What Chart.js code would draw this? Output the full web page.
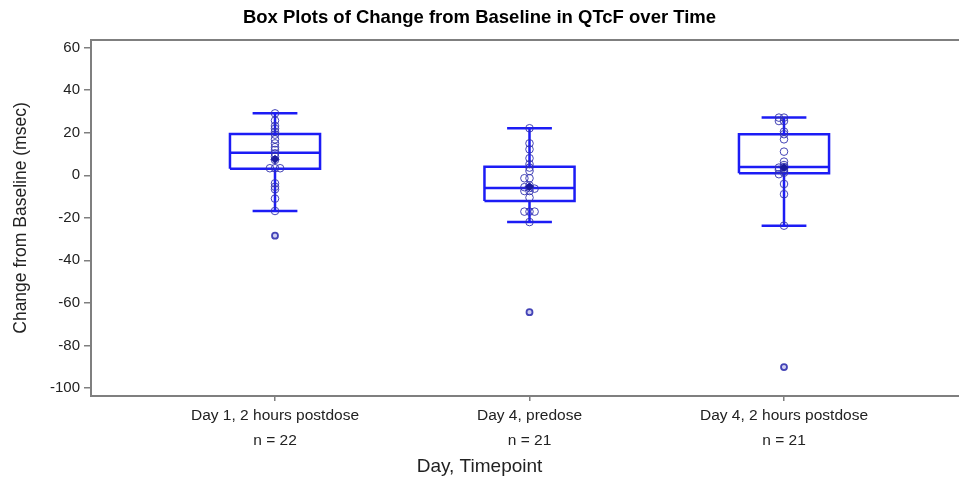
<!DOCTYPE html>
<html><head><meta charset="utf-8">
<script src="https://cdn.jsdelivr.net/npm/chart.js@4.4.1/dist/chart.umd.min.js"></script>
<style>html,body{margin:0;padding:0;background:#fff;overflow:hidden}#wrap{width:959px;height:479px;overflow:hidden}</style>
</head><body>
<div id="wrap"><canvas id="c" width="965" height="479"></canvas></div>
<script>
// ---- data ----
const categories = ['Day 1, 2 hours postdose', 'Day 4, predose', 'Day 4, 2 hours postdose'];
const nLabels = ['n = 22', 'n = 21', 'n = 21'];
const yTicks = [-100, -80, -60, -40, -20, 0, 20, 40, 60];

const whiskerLow  = [-16.8, -22.0, -23.7];
const q1          = [3.0, -12.1, 0.9];
const median      = [10.6, -6.0, 3.9];
const q3          = [19.4, 4.0, 19.3];
const whiskerHigh = [29.1, 22.1, 27.1];
const means       = [7.5, -5.4, 3.6];

const day1Values = [29.1, 25.7, 23.2, 21.9, 20.4, 19.1, 16.9, 15.0, 13.2, 11.9, 10.3, 8.7, 7.2,
                    3.3, 3.3, 3.3, -3.8, -5.4, -6.6, -11.0, -16.8, -28.4];
const day4PreValues = [22.1, 15.0, 12.2, 8.0, 5.2, 3.6, 2.0, -1.4, -1.4, -4.8, -5.6, -6.0, -6.3,
                       -7.4, -7.4, -10.5, -17.1, -17.1, -17.1, -22.0, -64.4];
const day4PostValues = [27.1, 27.1, 25.5, 25.5, 20.5, 19.3, 16.9, 11.1, 6.4, 4.8, 3.9, 3.6, 3.0,
                        2.5, 2.0, 1.2, 0.5, -4.1, -8.9, -23.7, -90.2];
const groupValues = [day1Values, day4PreValues, day4PostValues];

// ---- styling / geometry constants ----
const BOX_HALF = 0.177;   // half box width in category units
const CAP_HALF = 0.088;   // half whisker-cap width
const JITTER = 0.02;
const X_MIN = 0.277, X_MAX = 3.6876;
const Y_MIN = -103.8, Y_MAX = 63.6;
const AXIS_COLOR = '#7f7f7f';
const BOX_COLOR = '#1c1cf5';
const PT_COLOR = 'rgba(50,50,175,0.9)';

// build box structure as line segments separated by gaps
const boxLines = [];
categories.forEach((c, i) => {
  const cx = i + 1;
  const gap = {x: cx, y: null};
  boxLines.push({x: cx - BOX_HALF, y: q1[i]}, {x: cx + BOX_HALF, y: q1[i]}, {x: cx + BOX_HALF, y: q3[i]},
                {x: cx - BOX_HALF, y: q3[i]}, {x: cx - BOX_HALF, y: q1[i]}, gap);
  boxLines.push({x: cx - BOX_HALF, y: median[i]}, {x: cx + BOX_HALF, y: median[i]}, gap);
  boxLines.push({x: cx, y: q3[i]}, {x: cx, y: whiskerHigh[i]}, gap);
  boxLines.push({x: cx - CAP_HALF, y: whiskerHigh[i]}, {x: cx + CAP_HALF, y: whiskerHigh[i]}, gap);
  boxLines.push({x: cx, y: q1[i]}, {x: cx, y: whiskerLow[i]}, gap);
  boxLines.push({x: cx - CAP_HALF, y: whiskerLow[i]}, {x: cx + CAP_HALF, y: whiskerLow[i]}, gap);
});

// individual observations: ties spread sideways deterministically
const pattern = [0, -1, 1, -2, 2];
const obsPts = [], outPts = [];
groupValues.forEach((vals, i) => {
  const placed = [];
  vals.forEach(v => {
    let off = 0;
    for (const p of pattern) {
      if (!placed.some(q => q.o === p && Math.abs(q.v - v) < 0.8)) { off = p; break; }
    }
    placed.push({v, o: off});
    const pt = {x: i + 1 + off * JITTER, y: v};
    if (v < whiskerLow[i] - 0.5 || v > whiskerHigh[i] + 0.5) outPts.push(pt); else obsPts.push(pt);
  });
});
const meanPts = means.map((m, i) => ({x: i + 1, y: m}));

const frame = {
  id: 'frame',
  beforeDatasetsDraw(chart) {
    const {ctx, chartArea} = chart;
    ctx.save();
    ctx.strokeStyle = AXIS_COLOR;
    ctx.lineWidth = 2;
    ctx.beginPath();
    ctx.moveTo(chartArea.left - 1, chartArea.top);
    ctx.lineTo(chartArea.right + 10, chartArea.top);
    ctx.stroke();
    ctx.restore();
  }
};

new Chart(document.getElementById('c'), {
  type: 'scatter',
  data: {
    datasets: [
      {label: 'Mean', data: meanPts, pointStyle: 'rectRot', pointRadius: 4, borderWidth: 1,
       borderColor: '#1a1a9c', backgroundColor: '#1a1a9c'},
      {label: 'Observations', data: obsPts, pointStyle: 'circle', pointRadius: 3.8, borderWidth: 1,
       borderColor: PT_COLOR, backgroundColor: 'rgba(0,0,0,0)'},
      {label: 'Outliers', data: outPts, pointStyle: 'circle', pointRadius: 3, borderWidth: 1.8,
       borderColor: 'rgba(50,50,175,0.9)', backgroundColor: 'rgba(160,160,230,0.5)'},
      {label: 'Box', type: 'line', data: boxLines, showLine: true, spanGaps: false, pointRadius: 0,
       borderColor: BOX_COLOR, borderWidth: 2.5, borderJoinStyle: 'miter', borderCapStyle: 'butt', fill: false}
    ]
  },
  options: {
    responsive: false,
    animation: false,
    layout: {padding: {left: 0, right: 6, top: 0, bottom: 0}},
    plugins: {
      legend: {display: false},
      tooltip: {enabled: false},
      title: {display: true, text: 'Box Plots of Change from Baseline in QTcF over Time',
              color: '#000', font: {family: 'Liberation Sans, Arial', size: 18.5, weight: 'bold'},
              padding: {top: 7, bottom: 10.8}},
      subtitle: {display: true, position: 'bottom', text: 'Day, Timepoint', color: '#222',
                 font: {family: 'Liberation Sans, Arial', size: 19}, padding: {top: 0, bottom: 1}}
    },
    scales: {
      x: {
        type: 'linear', position: 'bottom', min: X_MIN, max: X_MAX,
        afterBuildTicks: s => { s.ticks = categories.map((c, i) => ({value: i + 1})); },
        afterFit: s => { s.height = 59.2; },
        ticks: {
          autoSkip: false, maxRotation: 0, padding: 2, color: '#222',
          font: {family: 'Liberation Sans, Arial', size: 15.5, lineHeight: 1.613},
          callback: v => [categories[v - 1], nLabels[v - 1]]
        },
        grid: {display: true, drawOnChartArea: false, drawTicks: true, tickLength: 5, color: AXIS_COLOR, lineWidth: 1.5},
        border: {display: true, color: AXIS_COLOR, width: 2}
      },
      y: {
        type: 'linear', min: Y_MIN, max: Y_MAX,
        afterBuildTicks: s => { s.ticks = yTicks.map(v => ({value: v})); },
        afterFit: s => { s.width = 91; },
        ticks: {padding: 4, color: '#222', font: {family: 'Liberation Sans, Arial', size: 15}},
        grid: {display: true, drawOnChartArea: false, drawTicks: true, tickLength: 7, color: AXIS_COLOR, lineWidth: 1.5},
        border: {display: true, color: AXIS_COLOR, width: 2},
        title: {display: true, text: 'Change from Baseline (msec)', color: '#222',
                font: {family: 'Liberation Sans, Arial', size: 17.5}, padding: {top: 10.5, bottom: 0}}
      }
    }
  },
  plugins: [frame]
});
</script>
</body></html>
